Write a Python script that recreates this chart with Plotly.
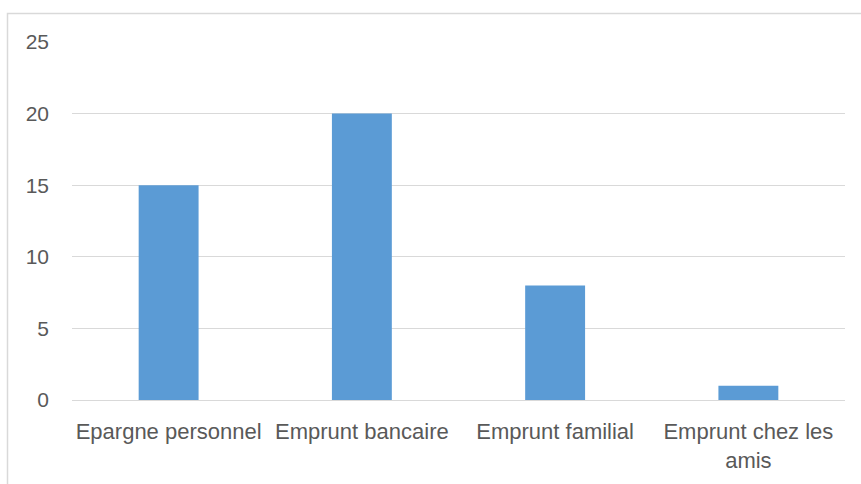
import plotly.graph_objects as go

categories = ["Epargne personnel", "Emprunt bancaire", "Emprunt familial", "Emprunt chez les<br>amis"]
values = [15, 20, 8, 1]
y_ticks = [0, 5, 10, 15, 20, 25]

W, H = 861, 484
ml, mr, mt, mb = 72, 16, 42, 84
pw, ph = W - ml - mr, H - mt - mb

fig = go.Figure(go.Bar(x=categories, y=values, marker=dict(color="#5B9BD5", line=dict(width=0)),
                       hoverinfo="skip"))

font = "Liberation Sans, Arial, sans-serif"
fig.update_layout(
    width=W, height=H,
    margin=dict(l=ml, r=mr, t=mt, b=mb, pad=0),
    paper_bgcolor="white", plot_bgcolor="white",
    bargap=0.69,
    showlegend=False,
    font=dict(family=font, color="#595959"),
    xaxis=dict(showgrid=False, showline=False, ticks="", tickfont=dict(size=22, color="#595959"),
               ticklabelstandoff=16, tickangle=0, fixedrange=True),
    yaxis=dict(range=[0, 25], tickvals=y_ticks, showgrid=True, gridcolor="#D9D9D9", gridwidth=1,
               zeroline=True, zerolinecolor="#D9D9D9", zerolinewidth=1, showline=False, ticks="",
               tickfont=dict(size=21, color="#595959"), ticklabelstandoff=22, fixedrange=True),
    shapes=[dict(type="rect", xref="paper", yref="paper",
                 x0=(7.5 - ml) / pw, x1=(W + 20 - ml) / pw,
                 y0=-(mb + 20) / ph, y1=1 + (mt - 13.5) / ph,
                 line=dict(color="#D9D9D9", width=1.5), fillcolor="rgba(0,0,0,0)", layer="below")],
)

fig.write_html("out.html", config={"displayModeBar": False},
               post_script="document.body.style.margin='0';document.body.style.overflow='hidden';")
